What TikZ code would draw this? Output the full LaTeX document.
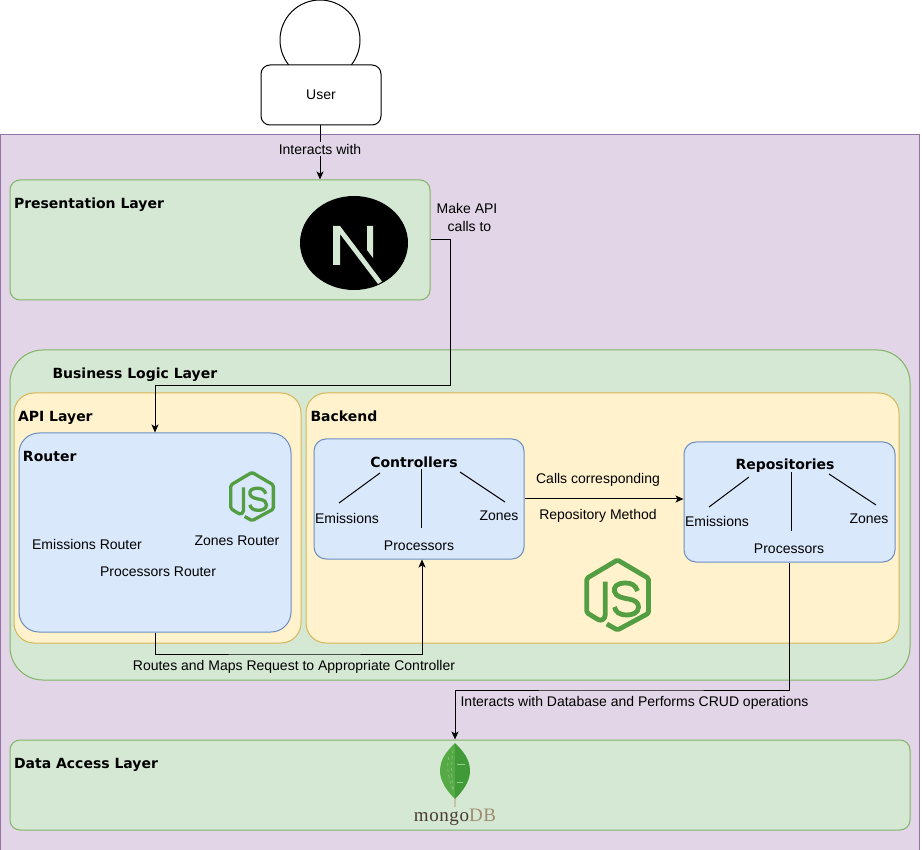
\documentclass[tikz,border=0pt]{standalone}
\usepackage{xcolor}
\usepackage{fontspec}
\setmainfont{Liberation Sans}
\newfontfamily\titlefam{DejaVu Sans}
\newfontfamily\mongofam[LetterSpace=3]{Liberation Serif}
\usepackage{tikz}
\usetikzlibrary{calc}
\usetikzlibrary{arrows.meta}
\usetikzlibrary{shapes.geometric}
\usetikzlibrary{positioning}
\definecolor{layerfill}{HTML}{D5E8D4}
\definecolor{layerline}{HTML}{82B366}
\definecolor{sandfill}{HTML}{FFF2CC}
\definecolor{sandline}{HTML}{D6B656}
\definecolor{bluefill}{HTML}{DAE8FC}
\definecolor{blueline}{HTML}{6C8EBF}
\definecolor{appfill}{HTML}{E1D5E7}
\definecolor{appline}{HTML}{9673A6}
\definecolor{jsgreen}{HTML}{539E43}
\definecolor{leaflight}{HTML}{55AA45}
\definecolor{leafdark}{HTML}{409A38}
\definecolor{leafstem}{HTML}{C9C2AC}
\definecolor{mongodark}{HTML}{4A3B32}
\definecolor{mongotan}{HTML}{A08C70}
\tikzset{>=latex}
\tikzset{
  layerbox/.style = {rectangle, draw=layerline, fill=layerfill, inner sep=0},
  sandbox/.style = {rectangle, draw=sandline, fill=sandfill, inner sep=0, rounded corners=20},
  bluebox/.style = {rectangle, draw=blueline, fill=bluefill, inner sep=0},
  heading/.style = {anchor=west, inner sep=0, font=\titlefam\bfseries\fontsize{14}{16}\selectfont},
  subhead/.style = {inner sep=0, font=\titlefam\bfseries\fontsize{14}{16}\selectfont},
  caption/.style = {inner sep=0, yshift=-1, font=\fontsize{14}{18}\selectfont},
  conn/.style = {-{Stealth[length=8pt,width=7pt,inset=2pt]}, draw=black},
  spoke/.style = {-, draw=black}
}
\newcommand{\jslogo}[3]{
\begin{scope}[shift={(#1,#2)}, scale=#3]
\draw [jsgreen, line width=#3*4.8pt, line join=round, rounded corners=1.5]
  (-12.3,-13.3) -- (-12.3,18.3) .. controls (-12.3,24) and (-16,26) .. (-20,24.3)
  -- (-30.7,17.7) -- (-30.7,-16.7) -- (0,-35) -- (31,-16.7) -- (31,18.3) -- (0,35) -- (-10.7,29);
\draw [jsgreen, line width=#3*4.8pt]
  (20,-4) .. controls (18,-10) and (14,-12) .. (8,-12)
  .. controls (-1,-12) and (-4,-8) .. (-3,-3.5)
  .. controls (-2,2) and (6,3) .. (11,4)
  .. controls (18,5) and (21,8) .. (21,12)
  .. controls (21,18) and (15,20) .. (9,20)
  .. controls (2,20) and (-2,17) .. (-3,12);
\end{scope}
}

\begin{document}
\begin{tikzpicture}[x=1pt, y=-1pt, line width=1pt]
\useasboundingbox (0,0) rectangle (922,850);
% app background
\node [rectangle, draw=appline, fill=appfill, inner sep=0, minimum width=919, minimum height=717] (app) at (460,493.5) {};
% user
\node [circle, draw=black, fill=white, inner sep=0, minimum size=80] (head) at (320,40) {};
\node [rectangle, draw=black, fill=white, rounded corners=9, inner sep=0, minimum width=120, minimum height=60, caption] (user) at (321,94) {User};
% layers
\node [layerbox, rounded corners=10, minimum width=420, minimum height=120] (presentation) at (220,240) {};
\node [layerbox, rounded corners=33, minimum width=900, minimum height=330] (business) at (460,515) {};
\node [layerbox, rounded corners=10, minimum width=900, minimum height=90] (data) at (460,785) {};
\node [sandbox, minimum width=287, minimum height=250] (api) at (157.5,518) {};
\node [sandbox, minimum width=593, minimum height=250] (backend) at (602.5,518) {};
\node [bluebox, rounded corners=20, minimum width=272, minimum height=199] (router) at (155,532.5) {};
\node [bluebox, rounded corners=12, minimum width=210, minimum height=120] (controllers) at (419,499) {};
\node [bluebox, rounded corners=12, minimum width=211, minimum height=120] (repos) at (789.5,502) {};
% headings
\node [heading] (presTitle) at (13.5,205) {Presentation Layer};
\node [heading] (busTitle) at (52,375) {Business Logic Layer};
\node [heading] (apiTitle) at (17.5,418) {API Layer};
\node [heading] (routerTitle) at (22.5,456) {Router};
\node [heading] (backTitle) at (310,416) {Backend};
\node [heading] (dataTitle) at (13.5,765) {Data Access Layer};
\node [subhead] (ctrlTitle) at (414,462) {Controllers};
\node [subhead] (repoTitle) at (785,466) {Repositories};
% router entries
\node [caption] (emRouter) at (87,543) {Emissions Router};
\node [caption] (zoRouter) at (237,540) {Zones Router};
\node [caption] (prRouter) at (158,571) {Processors Router};
% controllers entries
\node [caption] (ctrlEm) at (347,517) {Emissions};
\node [caption] (ctrlZo) at (499,515) {Zones};
\node [caption] (ctrlPr) at (419,545) {Processors};
\coordinate (ctrlA) at (380,473);
\coordinate (ctrlB) at (339,503);
\coordinate (ctrlC) at (421,469);
\coordinate (ctrlD) at (421,528);
\coordinate (ctrlE) at (460,472);
\coordinate (ctrlF) at (505,502);
\draw [spoke] (ctrlA) to (ctrlB);
\draw [spoke] (ctrlC) to (ctrlD);
\draw [spoke] (ctrlE) to (ctrlF);
% repositories entries
\node [caption] (repoEm) at (717,520) {Emissions};
\node [caption] (repoZo) at (869,518) {Zones};
\node [caption] (repoPr) at (789,548) {Processors};
\coordinate (repoA) at (749,477);
\coordinate (repoB) at (709,507);
\coordinate (repoC) at (791,472);
\coordinate (repoD) at (791,531);
\coordinate (repoE) at (829,474);
\coordinate (repoF) at (876,505);
\draw [spoke] (repoA) to (repoB);
\draw [spoke] (repoC) to (repoD);
\draw [spoke] (repoE) to (repoF);
% next logo
\node [ellipse, fill=black, inner sep=0, minimum width=108, minimum height=94] (nextLogo) at (354,243) {};
\fill [layerfill] (333,226) -- (340,226) -- (382,281.5) -- (378,284) -- (340,234) -- (340,265) -- (333,265) -- cycle;
\fill [layerfill] (367,226) -- (373,226) -- (373,258) -- (367,250) -- cycle;
% js logos
\jslogo{252}{496.5}{0.69}
\jslogo{617.5}{595}{1}
% mongo logo
\fill [leafstem] (454,795) rectangle (456,807);
\fill [leaflight] (455,743) .. controls (447,751) and (440,759) .. (440,771) .. controls (440,782) and (448,792) .. (455,799) -- cycle;
\fill [leafdark] (455,743) .. controls (463,751) and (470,759) .. (470,771) .. controls (470,782) and (462,792) .. (455,799) -- cycle;
\draw [leaflight!60!white, line width=0.5pt, dashed] (449,757) .. controls (446,768) and (449,780) .. (453,790);
\draw [leaflight!60!white, line width=0.5pt, dashed] (453,750) .. controls (451,765) and (451,780) .. (454,792);
\draw [leaflight!60!white, line width=0.5pt] (457,764) -- (465,764);
\draw [leaflight!60!white, line width=0.5pt] (457,782) -- (463,782);
\node [inner sep=0, font=\mongofam\fontsize{19}{21}\selectfont] (mongoText) at (455,817) {\textcolor{mongodark}{mongo}\textcolor{mongotan}{DB}};
% connectors
\coordinate (apiBend) at (450,386);
\coordinate (routeBend) at (300,654);
\coordinate (mongoBend) at (620,690);
\draw [conn] (user.south -| head.south) to node [caption, fill=appfill, inner ysep=2, midway, yshift=4.5] (interacts) {Interacts with} (head.south |- presentation.north);
\draw [conn] (presentation.east) -| (apiBend) -| (router.north);
\draw [conn] (router.south) |- (routeBend) -| ([xshift=3]controllers.south);
\draw [conn] (controllers.east) to (repos.west |- controllers.east);
\draw [conn] (repos.south) |- (mongoBend) -| ([xshift=-5]data.north);
% connector labels
\node [caption, align=center] (apiCalls) at (467,216) {Make API\\\hspace*{5pt}calls to};
\node [caption] (routeLabel) at (294,666) {Routes and Maps Request to Appropriate Controller};
\node [caption] (callsA) at (598,479) {Calls corresponding};
\node [caption] (callsB) at (598,515) {Repository Method};
\node [caption] (crudLabel) at (634.5,702) {Interacts with Database and Performs CRUD operations};
\end{tikzpicture}
\end{document}
